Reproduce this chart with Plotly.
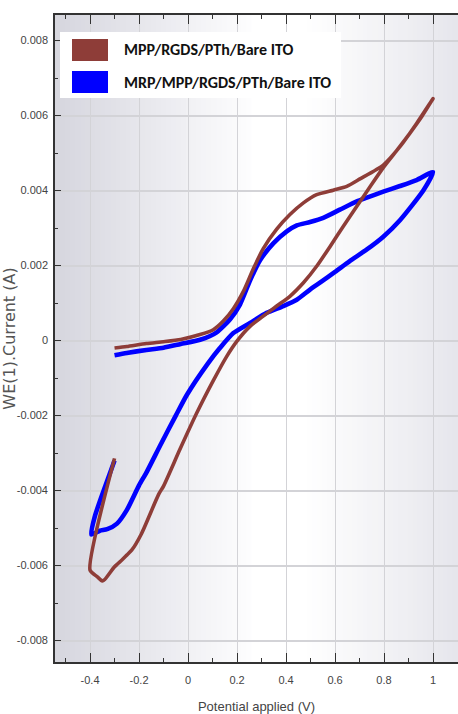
import plotly.graph_objects as go

# Cyclic voltammograms: potential (V) vs WE(1) current (A), traced along the scan path
series_names = ["MPP/RGDS/PTh/Bare ITO", "MRP/MPP/RGDS/PTh/Bare ITO"]
series_colors = ["#8e3d38", "#0000ff"]

mpp_potential = [
    -0.30, -0.25, -0.17, -0.10, -0.03, 0.049, 0.103, 0.144, 0.185, 0.226, 0.267,
    0.307, 0.362, 0.416, 0.471, 0.525, 0.593, 0.648, 0.702, 0.797, 0.865, 0.933,
    1.00,
    0.955, 0.906, 0.85, 0.797, 0.745, 0.689, 0.634, 0.580, 0.525, 0.471, 0.416,
    0.362, 0.307, 0.253, 0.199, 0.158, 0.103, 0.035, -0.033, -0.10, -0.12, -0.19,
    -0.23, -0.25, -0.27, -0.30, -0.34, -0.35, -0.37, -0.40, -0.30,
]
mpp_current = [
    -0.00020, -0.00016, -0.00008, -0.00003, 0.00003, 0.00016, 0.00029, 0.00052,
    0.00085, 0.00131, 0.00192, 0.00245, 0.00297, 0.00336, 0.00367, 0.00389,
    0.00401, 0.00411, 0.00431, 0.00468, 0.00517, 0.00579, 0.00645,
    0.00598, 0.00553, 0.00505, 0.00461, 0.00412, 0.00358, 0.00305, 0.00251,
    0.00198, 0.00154, 0.00118, 0.00092, 0.00065, 0.00038, -0.00002, -0.00042,
    -0.00107, -0.00194, -0.00290, -0.00388, -0.00410, -0.00515, -0.00559,
    -0.00572, -0.00585, -0.00603, -0.00637, -0.00641, -0.00630, -0.00612,
    -0.00314,
]

mrp_potential = [
    -0.30, -0.25, -0.17, -0.10, -0.03, 0.049, 0.117, 0.171, 0.212, 0.253, 0.294,
    0.348, 0.403, 0.444, 0.498, 0.552, 0.62, 0.689, 0.73, 0.797, 0.865, 0.933,
    1.00,
    0.961, 0.865, 0.797, 0.73, 0.66, 0.60, 0.54, 0.498, 0.444, 0.389, 0.321,
    0.253, 0.185, 0.13, 0.08, -0.005, -0.05, -0.11, -0.17, -0.20, -0.25, -0.29,
    -0.33, -0.36, -0.395, -0.38, -0.345, -0.30,
]
mrp_current = [
    -0.00039, -0.00033, -0.00025, -0.00019, -0.00009, 0.00002, 0.00022, 0.00056,
    0.00096, 0.00160, 0.00214, 0.00259, 0.00291, 0.00307, 0.00316, 0.00327,
    0.00349, 0.00371, 0.00381, 0.00397, 0.00412, 0.00428, 0.00449,
    0.00401, 0.00321, 0.00277, 0.00243, 0.00212, 0.00183, 0.00155, 0.00136,
    0.00109, 0.00092, 0.00074, 0.00047, 0.00020, -0.00020, -0.00062, -0.00145,
    -0.00200, -0.00275, -0.00352, -0.00386, -0.00452, -0.00488, -0.00503,
    -0.00507, -0.00517, -0.00468, -0.00401, -0.00320,
]

x_tickvals = [-0.4, -0.2, 0, 0.2, 0.4, 0.6, 0.8, 1.0]
x_ticktext = ["-0.4", "-0.2", "0", "0.2", "0.4", "0.6", "0.8", "1"]
y_tickvals = [0.008, 0.006, 0.004, 0.002, 0, -0.002, -0.004, -0.006, -0.008]
y_ticktext = ["0.008", "0.006", "0.004", "0.002", "0", "-0.002", "-0.004", "-0.006", "-0.008"]

x_title = "Potential applied (V)"
y_title = "WE(1).Current (A)"

sans = "Liberation Sans, Arial, sans-serif"

fig = go.Figure()

# blue drawn first so the brown trace sits on top where they overlap
fig.add_trace(go.Scatter(
    x=mrp_potential, y=mrp_current, mode="lines", name=series_names[1],
    line=dict(color=series_colors[1], width=4.6, shape="spline", smoothing=0.6),
    showlegend=False,
))
fig.add_trace(go.Scatter(
    x=mpp_potential, y=mpp_current, mode="lines", name=series_names[0],
    line=dict(color=series_colors[0], width=3.6, shape="spline", smoothing=0.6),
    showlegend=False,
))

# soft horizontal shading of the plot background: grey at the left, white in
# the middle, faintly grey at the right
def shade(t):
    stops = [(0.0, (214, 214, 222)), (0.2, (229, 229, 235)), (0.36, (243, 243, 246)),
             (0.5, (255, 255, 255)), (0.62, (255, 255, 255)), (1.0, (230, 230, 236))]
    for (t0, c0), (t1, c1) in zip(stops[:-1], stops[1:]):
        if t0 <= t <= t1:
            f = (t - t0) / (t1 - t0)
            return "rgb(%d,%d,%d)" % tuple(round(a + (b - a) * f) for a, b in zip(c0, c1))
    return "rgb(230,230,236)"

shapes = []
n_strips = 80
for k in range(n_strips):
    t0 = k / n_strips
    t1 = (k + 1) / n_strips + 0.002
    shapes.append(dict(
        type="rect", xref="x domain", yref="y domain", x0=t0, x1=min(t1, 1.0), y0=0, y1=1,
        fillcolor=shade((t0 + t1) / 2), line=dict(width=0), layer="below",
    ))

# legend box with filled colour swatches
shapes.append(dict(type="rect", xref="paper", yref="paper", x0=5 / 403, x1=286 / 403,
                   y0=1 - 83 / 647, y1=1 - 17 / 647, fillcolor="white",
                   line=dict(width=0), layer="above"))
annotations = []
for i, (nm, col) in enumerate(zip(series_names, series_colors)):
    top = 24 + i * 32
    shapes.append(dict(type="rect", xref="paper", yref="paper",
                       x0=17 / 403, x1=53 / 403, y0=1 - (top + 22) / 647, y1=1 - top / 647,
                       fillcolor=col, line=dict(width=0), layer="above"))
    annotations.append(dict(
        text=nm, xref="paper", yref="paper", x=67 / 403, y=1 - (top + 11) / 647,
        xanchor="left", yanchor="middle", showarrow=False,
        font=dict(family="Carlito, Lato, sans-serif", size=16, color="#111111", weight="bold"),
    ))

fig.update_layout(
    width=458, height=714,
    margin=dict(l=55, r=0, t=15, b=52),
    paper_bgcolor="white", plot_bgcolor="white",
    shapes=shapes, annotations=annotations,
    showlegend=False,
    xaxis=dict(
        range=[-0.543, 1.102], tickmode="array", tickvals=x_tickvals, ticktext=x_ticktext,
        ticks="inside", ticklen=9, tickwidth=1.3, tickcolor="#333333",
        showline=True, linecolor="#333333", linewidth=1.6, mirror="ticks",
        showgrid=True, gridcolor="#d3d3d7", gridwidth=1.3, zeroline=False,
        minor=dict(tickmode="linear", tick0=0, dtick=0.1, ticks="inside", ticklen=4,
                   tickcolor="#333333", showgrid=False),
        tickfont=dict(family=sans, size=11, color="#444444"),
        ticklabelstandoff=7,
        title=dict(text=x_title, font=dict(family=sans, size=13, color="#444444"), standoff=17),
    ),
    yaxis=dict(
        range=[-0.00857, 0.00868], tickmode="array", tickvals=y_tickvals, ticktext=y_ticktext,
        ticks="inside", ticklen=6, tickwidth=1.3, tickcolor="#333333",
        showline=True, linecolor="#333333", linewidth=1.6, mirror=False,
        showgrid=True, gridcolor="#d3d3d7", gridwidth=2, zeroline=False,
        minor=dict(tickmode="linear", tick0=0, dtick=0.001, ticks="inside", ticklen=3,
                   tickcolor="#333333", showgrid=False),
        tickfont=dict(family=sans, size=11, color="#444444"),
        ticklabelstandoff=3,
        title=dict(text=y_title, font=dict(family="DejaVu Sans, sans-serif", size=16, color="#555555"), standoff=3),
    ),
)

fig.write_html("out.html")
